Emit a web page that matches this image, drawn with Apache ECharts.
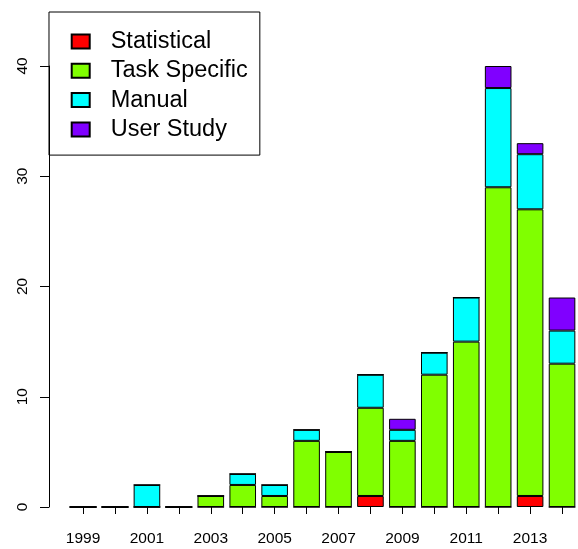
<!DOCTYPE html>
<html>
<head>
<meta charset="utf-8">
<script src="https://cdn.jsdelivr.net/npm/echarts@6/dist/echarts.min.js"></script>
<style>
  html, body { margin: 0; padding: 0; background: #fff; }
  #chart { width: 578px; height: 549px; }
</style>
</head>
<body>
<div id="chart"></div>
<script>
// Publications per year, split by evaluation type
const years = ['1999','2000','2001','2002','2003','2004','2005','2006','2007','2008','2009','2010','2011','2012','2013','2014'];
const statistical  = [0, 0, 0, 0, 0, 0, 0, 0, 0, 1, 0, 0, 0, 0, 1, 0];
const taskSpecific = [0, 0, 0, 0, 1, 2, 1, 6, 5, 8, 6, 12, 15, 29, 26, 13];
const manual       = [0, 0, 2, 0, 0, 1, 1, 1, 0, 3, 1, 2, 4, 9, 5, 3];
const userStudy    = [0, 0, 0, 0, 0, 0, 0, 0, 0, 0, 1, 0, 0, 2, 1, 3];
const yTicks = [0, 10, 20, 30, 40];

const FONT = 'Liberation Sans, Arial, sans-serif';

function stackSeries(name, data, color) {
  return {
    name: name,
    type: 'bar',
    stack: 'total',
    data: data,
    barWidth: '83.3%',
    itemStyle: { color: color, borderColor: '#000', borderWidth: 1 },
    emphasis: { disabled: true },
    animation: false
  };
}

const chart = echarts.init(document.getElementById('chart'), null, { renderer: 'canvas' });
chart.setOption({
  backgroundColor: '#fff',
  animation: false,
  grid: { left: 67.1, right: -6.5, top: 66, bottom: 42, containLabel: false },
  legend: {
    orient: 'vertical',
    left: 49,
    top: 12,
    padding: [17.5, 12, 13.7, 21.7],
    borderColor: '#000',
    borderWidth: 1,
    icon: 'rect',
    itemWidth: 18,
    itemHeight: 14,
    itemGap: 5.3,
    selectedMode: false,
    textStyle: { fontFamily: FONT, fontSize: 23.5, color: '#000', lineHeight: 24, padding: [0, 0, 0, 16] },
    data: ['Statistical', 'Task Specific', 'Manual', 'User Study']
  },
  xAxis: {
    type: 'category',
    data: years,
    offset: 3,
    axisLine: { show: false },
    axisTick: { show: true, alignWithLabel: true, interval: 0, length: 7, lineStyle: { color: '#000' } },
    axisLabel: { interval: 1, margin: 21, fontFamily: FONT, fontSize: 15.5, color: '#000' },
    splitLine: { show: false }
  },
  yAxis: {
    type: 'value',
    min: yTicks[0],
    max: yTicks[yTicks.length - 1],
    interval: 10,
    offset: 18.1,
    axisLine: { show: true, lineStyle: { color: '#000' } },
    axisTick: { show: true, length: 9, lineStyle: { color: '#000' } },
    axisLabel: { rotate: 90, margin: 18, fontFamily: FONT, fontSize: 15.5, color: '#000' },
    splitLine: { show: false }
  },
  series: [
    stackSeries('Statistical', statistical, '#FF0000'),
    stackSeries('Task Specific', taskSpecific, '#80FF00'),
    stackSeries('Manual', manual, '#00FFFF'),
    stackSeries('User Study', userStudy, '#8000FF')
  ]
});
</script>
</body>
</html>
